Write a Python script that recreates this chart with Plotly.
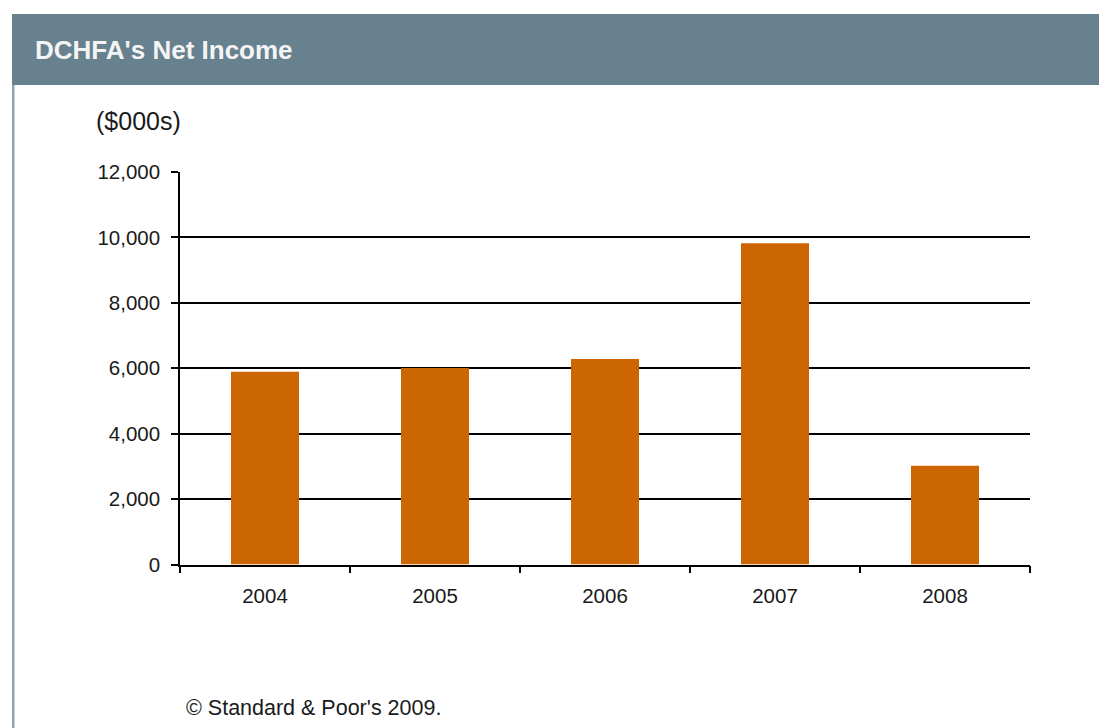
import plotly.graph_objects as go

years = ["2004", "2005", "2006", "2007", "2008"]
net_income = [5890, 6010, 6280, 9820, 3020]
y_ticks = [0, 2000, 4000, 6000, 8000, 10000, 12000]
y_tick_labels = ["0", "2,000", "4,000", "6,000", "8,000", "10,000", "12,000"]

W, H = 1099, 728
px = lambda x: x / W
py = lambda y: 1 - y / H

FONT = "Liberation Sans, Arial, sans-serif"
TXT = "#1a1a1a"

fig = go.Figure()
fig.add_trace(go.Bar(
    x=years, y=net_income,
    marker=dict(color="#CC6600", line=dict(width=0)),
    width=0.4,
    hoverinfo="x+y",
))

fig.update_layout(
    width=W, height=H, autosize=False,
    margin=dict(l=0, r=0, t=0, b=0, pad=0, autoexpand=False),
    paper_bgcolor="white",
    plot_bgcolor="white",
    showlegend=False,
    xaxis=dict(
        domain=[px(180), px(1030)],
        automargin=False,
        showgrid=False,
        showline=True, linecolor="black", linewidth=1.5,
        ticks="outside", tickson="boundaries", ticklen=7, tickcolor="black", tickwidth=1.5,
        tickfont=dict(family=FONT, size=20.5, color=TXT),
        ticklabelstandoff=12,
        fixedrange=True,
    ),
    yaxis=dict(
        domain=[py(564.5), py(172)],
        automargin=False,
        range=[0, 12000],
        tickvals=y_ticks, ticktext=y_tick_labels,
        showgrid=True, gridcolor="black", gridwidth=1.5,
        showline=True, linecolor="black", linewidth=1.5,
        ticks="outside", ticklen=7, tickcolor="black", tickwidth=1.5,
        tickfont=dict(family=FONT, size=20.5, color=TXT),
        ticklabelstandoff=7,
        zeroline=False,
        fixedrange=True,
    ),
    shapes=[
        dict(type="rect", xref="paper", yref="paper",
             x0=px(12), x1=1.0, y0=py(85), y1=py(14),
             fillcolor="#67818F", line=dict(width=0), layer="below"),
        dict(type="rect", xref="paper", yref="paper",
             x0=px(12), x1=px(14.5), y0=0, y1=py(85),
             fillcolor="#8FA3B0", line=dict(width=0), layer="below"),
    ],
    annotations=[
        dict(text="<b>DCHFA's Net Income</b>", xref="paper", yref="paper",
             x=px(33), y=py(50), xanchor="left", yanchor="middle", showarrow=False,
             font=dict(family=FONT, size=26, color="#F4F4F4")),
        dict(text="($000s)", xref="paper", yref="paper",
             x=px(94), y=py(121), xanchor="left", yanchor="middle", showarrow=False,
             font=dict(family=FONT, size=25, color=TXT)),
        dict(text="© Standard & Poor's 2009.", xref="paper", yref="paper",
             x=px(184), y=py(708), xanchor="left", yanchor="middle", showarrow=False,
             font=dict(family=FONT, size=21.5, color=TXT)),
    ],
)

fig.write_html("out.html")
